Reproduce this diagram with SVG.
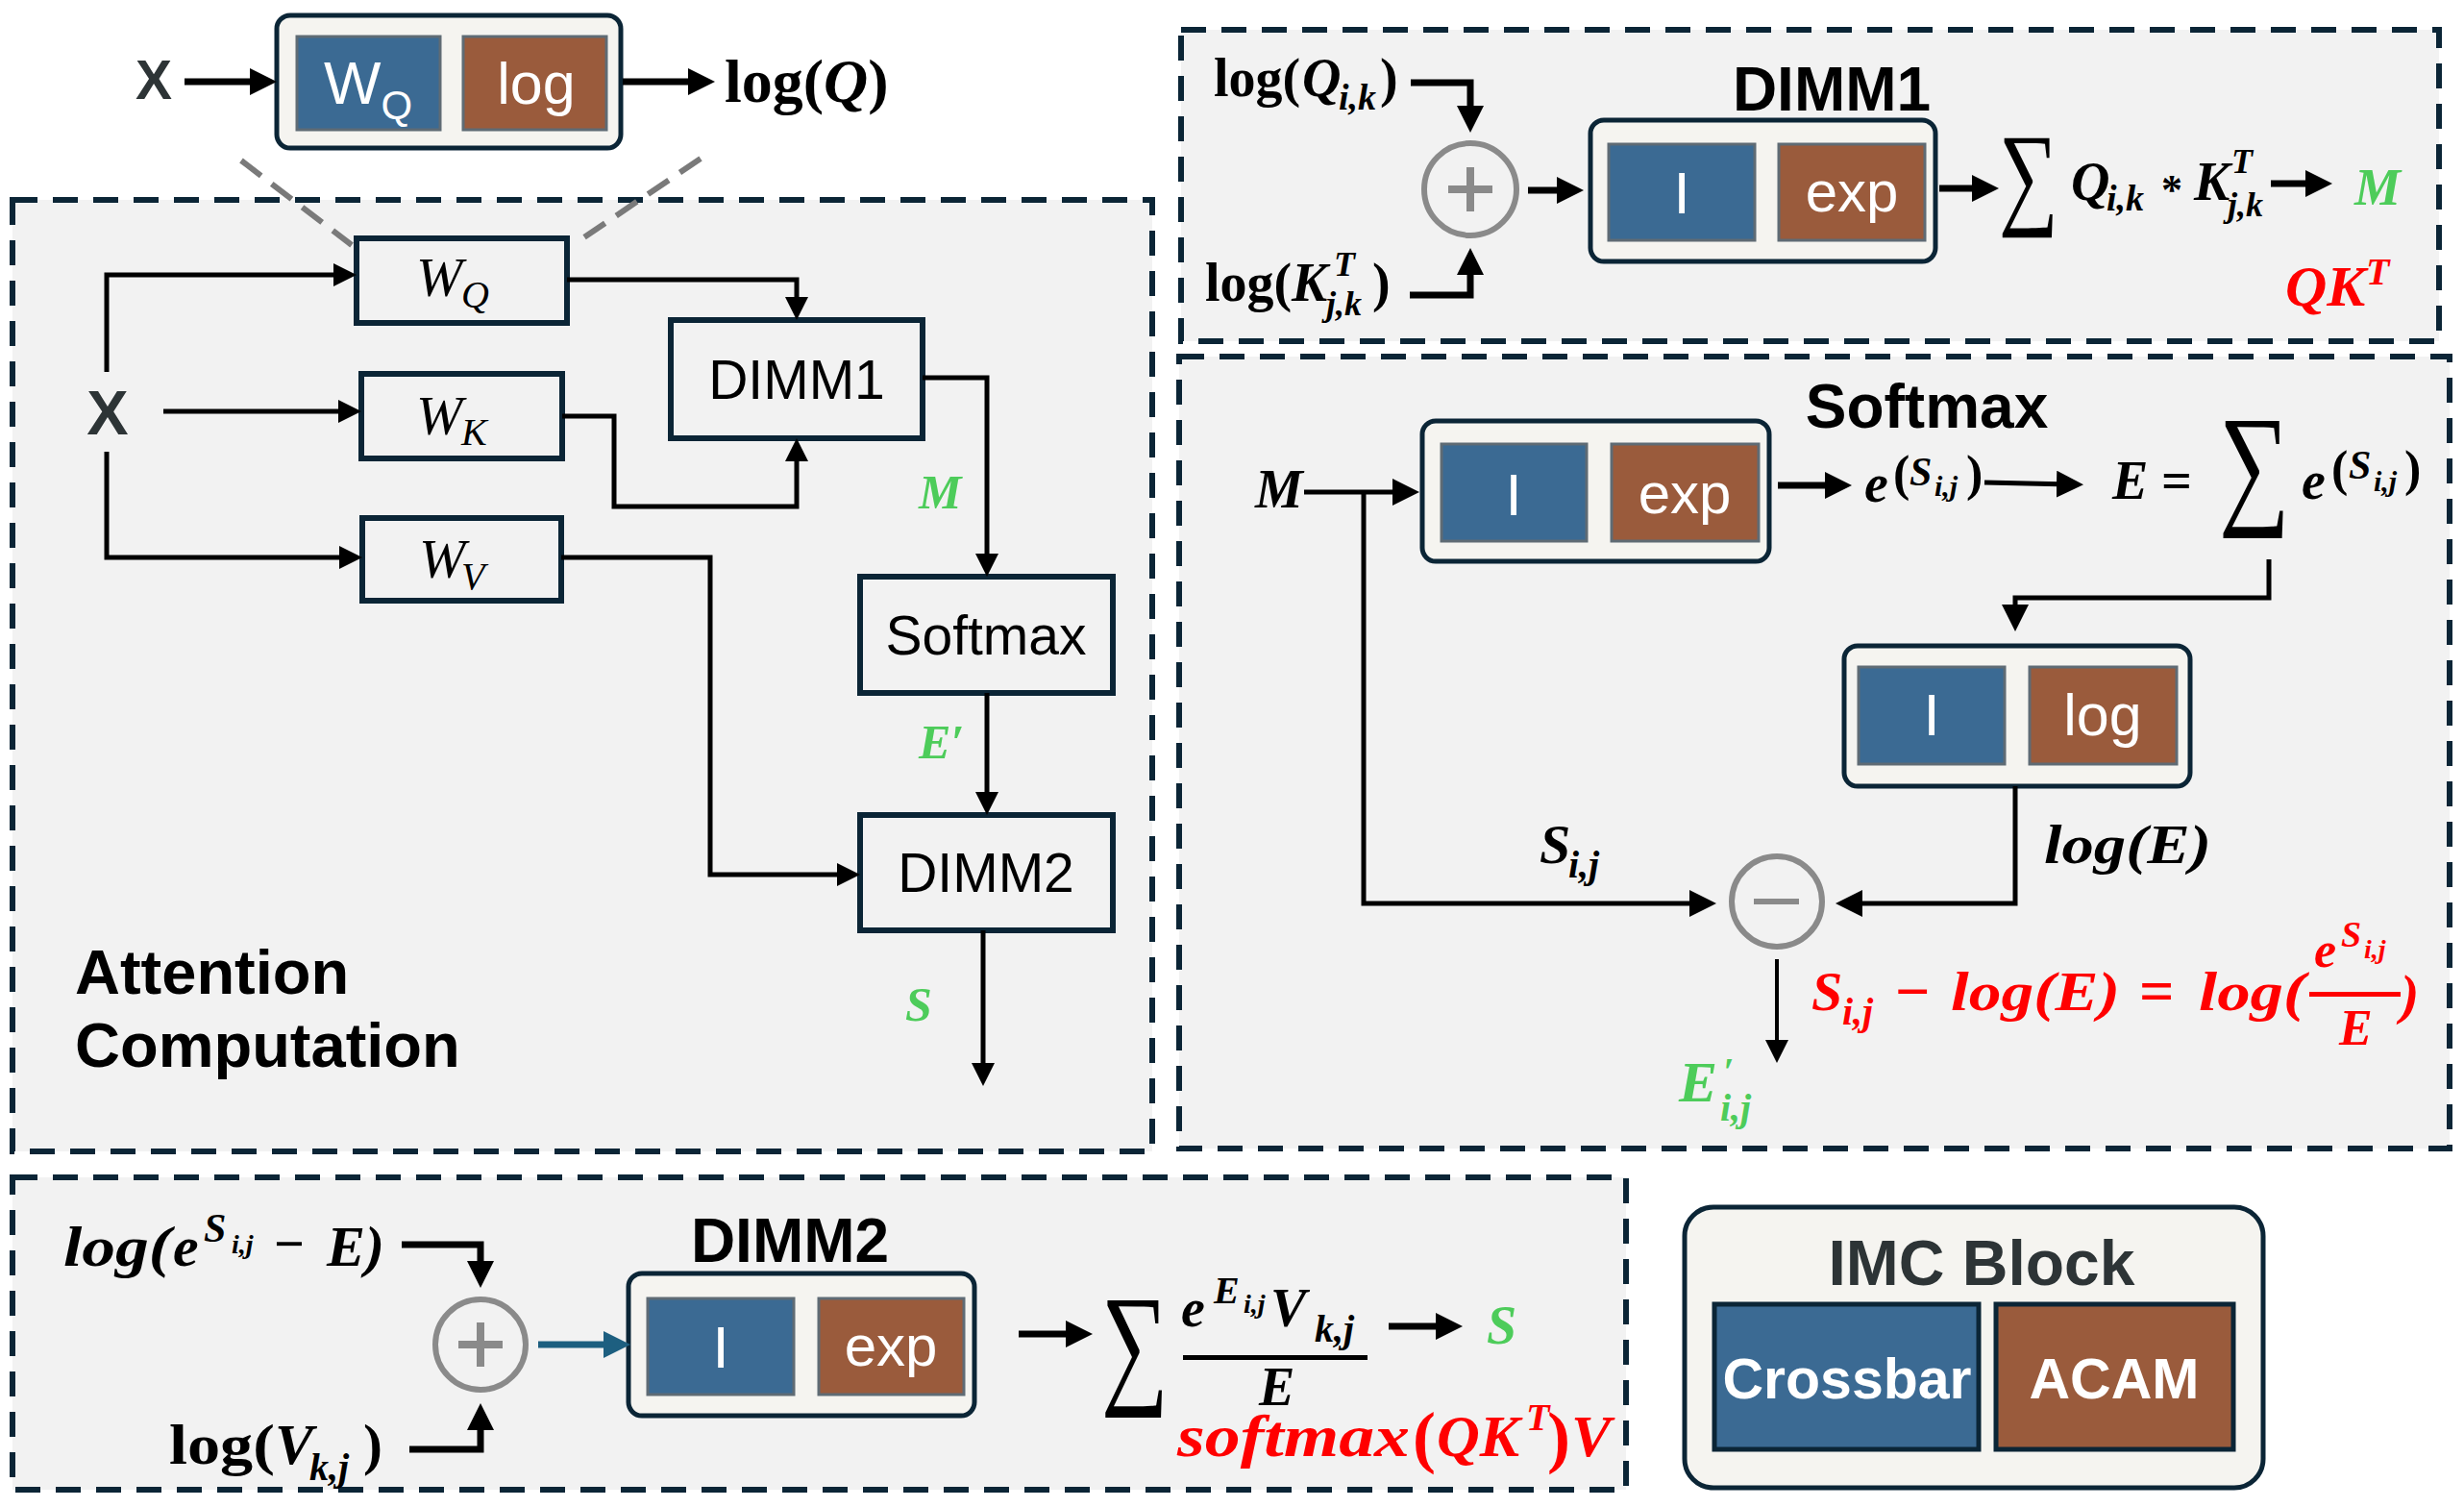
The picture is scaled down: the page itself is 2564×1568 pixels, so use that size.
<svg xmlns="http://www.w3.org/2000/svg" width="2564" height="1568" viewBox="0 0 2564 1568">
<style>
.pnl{fill:#f2f2f2;stroke:#0b2536;stroke-width:6;stroke-dasharray:26 16}
.bx{fill:#f2f2f2;stroke:#0b2536;stroke-width:6}
.imc{fill:#f5f4f0;stroke:#0b2536;stroke-width:5}
.cb{fill:#3b6a93;stroke:#5f6b74;stroke-width:3}
.ac{fill:#9a5b3c;stroke:#5f6b74;stroke-width:3}
.w{fill:none;stroke:#000;stroke-width:5}
.wt{fill:none;stroke:#000;stroke-width:7}
.op{fill:none;stroke:#8a8a8a;stroke-width:6}
.opl{stroke:#8a8a8a;stroke-width:8}
.dl{stroke:#7a7a7a;stroke-width:6;stroke-dasharray:26 14}
.sans{font-family:"Liberation Sans",Arial,sans-serif}
.b{font-weight:bold}
.m{font-family:"Liberation Serif","Times New Roman",serif;font-weight:bold}
.sig{font-family:"Liberation Serif","Times New Roman",serif;font-weight:normal}
.it{font-style:italic}
.up{font-style:normal}
.wh{fill:#fff}
.dk{fill:#2d3436}
.g{fill:#4dcc5a}
.r{fill:#ff0000}
.mid{text-anchor:middle}
</style>
<defs>
<marker id="ah" markerUnits="userSpaceOnUse" markerWidth="26" markerHeight="26" refX="12" refY="12" orient="auto"><path d="M0,0 L24,12 L0,24 z" fill="#000"/></marker>
<marker id="ah2" markerUnits="userSpaceOnUse" markerWidth="30" markerHeight="30" refX="14" refY="14" orient="auto"><path d="M0,0 L28,14 L0,28 z" fill="#000"/></marker>
<marker id="aht" markerUnits="userSpaceOnUse" markerWidth="30" markerHeight="30" refX="14" refY="14" orient="auto"><path d="M0,0 L28,14 L0,28 z" fill="#1d5f80"/></marker>
</defs>
<rect width="2564" height="1568" fill="#fff"/>

<!-- panels -->
<g id="panels">
<rect class="pnl" x="13" y="208" width="1186" height="990"/>
<rect class="pnl" x="1229" y="31" width="1309" height="324"/>
<rect class="pnl" x="1227" y="371" width="1322" height="824"/>
<rect class="pnl" x="13" y="1225" width="1679" height="325"/>
</g>

<!-- top mini W_Q/log block -->
<g id="zoom-lines">
<line class="dl" x1="251" y1="167" x2="366" y2="255"/>
<line class="dl" x1="729" y1="165" x2="599" y2="253"/>
</g>
<g id="topWQ">
<rect class="imc" x="288" y="16" width="358" height="138" rx="14"/>
<rect class="cb" x="309" y="38" width="149" height="97"/>
<rect class="ac" x="482" y="38" width="149" height="97"/>
<text class="sans wh" x="337" y="108" font-size="63">W<tspan font-size="42" y="124">Q</tspan></text>
<text class="sans wh mid" x="558" y="108" font-size="61">log</text>
</g>
<g id="topX"><text class="sans b dk mid" x="160" y="103" font-size="57">X</text></g>
<g id="topLogQ"><text class="m" x="754" y="106" font-size="64">log(<tspan class="it">Q</tspan>)</text></g>

<!-- attention computation nodes -->
<g id="attX"><text class="sans b dk mid" x="112" y="452" font-size="65">X</text></g>
<g id="WQ"><rect class="bx" x="371" y="248" width="219" height="88"/>
<text class="m it" style="font-weight:normal" x="433" y="308" font-size="58">W<tspan font-size="40" x="480" y="320">Q</tspan></text></g>
<g id="WK"><rect class="bx" x="376" y="389" width="209" height="88"/>
<text class="m it" style="font-weight:normal" x="433" y="452" font-size="58">W<tspan font-size="40" x="480" y="463">K</tspan></text></g>
<g id="WV"><rect class="bx" x="377" y="539" width="207" height="86"/>
<text class="m it" style="font-weight:normal" x="436" y="601" font-size="58">W<tspan font-size="40" x="480" y="613">V</tspan></text></g>
<g id="DIMM1"><rect class="bx" x="698" y="333" width="262" height="123"/>
<text class="sans mid" x="829" y="415" font-size="57">DIMM1</text></g>
<g id="Softmax"><rect class="bx" x="895" y="600" width="263" height="121"/>
<text class="sans mid" x="1026" y="681" font-size="57">Softmax</text></g>
<g id="DIMM2"><rect class="bx" x="895" y="848" width="263" height="120"/>
<text class="sans mid" x="1026" y="928" font-size="57">DIMM2</text></g>
<g id="attTitle"><text class="sans b" x="78" y="1034" font-size="65">Attention</text>
<text class="sans b" x="78" y="1110" font-size="65">Computation</text></g>
<g id="attLabels">
<text class="m it g" x="956" y="529" font-size="50">M</text>
<text class="m it g" x="956" y="789" font-size="50">E′</text>
<text class="m it g" x="942" y="1062" font-size="50">S</text>
</g>

<!-- DIMM1 detail -->
<g id="d1LogQ"><text class="m" font-size="56"><tspan x="1263" y="100">log(</tspan><tspan class="it" x="1355" y="100">Q</tspan><tspan class="it" font-size="38" x="1393" y="114">i,k</tspan><tspan x="1436" y="100">)</tspan></text></g>
<g id="d1LogK"><text class="m" font-size="56"><tspan x="1254" y="313">log(</tspan><tspan class="it" x="1344" y="313">K</tspan><tspan class="it" font-size="36" x="1388" y="287">T</tspan><tspan class="it" font-size="36" x="1380" y="328">j,k</tspan><tspan x="1428" y="313">)</tspan></text></g>
<g id="d1Plus"><circle class="op" cx="1530" cy="197" r="48"/><line class="opl" x1="1507" y1="197" x2="1553" y2="197"/><line class="opl" x1="1530" y1="174" x2="1530" y2="220"/></g>
<g id="d1Block"><rect class="imc" x="1655" y="125" width="359" height="147" rx="14"/>
<rect class="cb" x="1674" y="150" width="152" height="100"/>
<rect class="ac" x="1851" y="150" width="152" height="100"/>
<text class="sans wh mid" x="1750" y="222" font-size="62">I</text>
<text class="sans wh mid" x="1927" y="220" font-size="60">exp</text>
<text class="sans b mid" x="1906" y="115" font-size="64">DIMM1</text></g>
<g id="d1Sum"><text class="sig" font-size="120" x="2080" y="222" textLength="62" lengthAdjust="spacingAndGlyphs">∑</text>
<text class="m it" font-size="56"><tspan x="2155" y="208">Q</tspan><tspan font-size="38" x="2192" y="219">i,k</tspan><tspan class="up" font-size="44" x="2249" y="212">*</tspan><tspan x="2283" y="208">K</tspan><tspan font-size="36" x="2322" y="180">T</tspan><tspan font-size="36" x="2318" y="225">j,k</tspan></text></g>
<g id="d1M"><text class="m it g" x="2450" y="213" font-size="54">M</text></g>
<g id="d1QKT"><text class="m it r" font-size="60"><tspan x="2378" y="318">QK</tspan><tspan font-size="40" x="2462" y="296">T</tspan></text></g>

<!-- Softmax detail -->
<g id="smM"><text class="m it" x="1306" y="528" font-size="56">M</text></g>
<g id="smBlock"><rect class="imc" x="1480" y="438" width="361" height="146" rx="14"/>
<rect class="cb" x="1500" y="462" width="151" height="101"/>
<rect class="ac" x="1677" y="462" width="153" height="101"/>
<text class="sans wh mid" x="1575" y="536" font-size="62">I</text>
<text class="sans wh mid" x="1753" y="534" font-size="60">exp</text>
<text class="sans b mid" x="2005" y="445" font-size="64">Softmax</text></g>
<g id="smExp"><text class="m it" font-size="56"><tspan x="1940" y="522">e</tspan><tspan class="up" font-size="52" x="1970" y="510">(</tspan><tspan font-size="42" x="1987" y="505">S</tspan><tspan font-size="30" x="2013" y="516">i,j</tspan><tspan class="up" font-size="52" x="2046" y="510">)</tspan></text></g>
<g id="smSumE"><text class="m it" font-size="56"><tspan x="2198" y="519">E</tspan><tspan class="up" x="2249" y="519">=</tspan></text>
<text class="sig" font-size="140" x="2309" y="530" textLength="74" lengthAdjust="spacingAndGlyphs">∑</text>
<text class="m it" font-size="56"><tspan x="2395" y="519">e</tspan><tspan class="up" font-size="52" x="2426" y="505">(</tspan><tspan font-size="42" x="2444" y="498">S</tspan><tspan font-size="30" x="2470" y="511">i,j</tspan><tspan class="up" font-size="52" x="2502" y="505">)</tspan></text></g>
<g id="smLogBlock"><rect class="imc" x="1919" y="672" width="360" height="146" rx="14"/>
<rect class="cb" x="1934" y="694" width="152" height="101"/>
<rect class="ac" x="2112" y="694" width="153" height="101"/>
<text class="sans wh mid" x="2010" y="765" font-size="62">I</text>
<text class="sans wh mid" x="2188" y="765" font-size="61">log</text></g>
<g id="smLogE"><text class="m it" x="2127" y="898" font-size="58" textLength="174" lengthAdjust="spacingAndGlyphs">log(E)</text></g>
<g id="smS"><text class="m it" font-size="58"><tspan x="1602" y="898">S</tspan><tspan font-size="40" x="1632" y="913">i,j</tspan></text></g>
<g id="smMinus"><circle class="op" cx="1849" cy="938" r="47"/><line class="op" x1="1825" y1="938" x2="1872" y2="938"/></g>
<g id="smEp"><text class="m it g" font-size="60"><tspan x="1747" y="1146">E</tspan><tspan font-size="40" x="1793" y="1128">′</tspan><tspan font-size="40" x="1790" y="1166">i,j</tspan></text></g>
<g id="smRed"><text class="m it r" font-size="58">
<tspan x="1885" y="1051">S</tspan><tspan font-size="40" x="1917" y="1066">i,j</tspan><tspan class="up" font-size="64" x="1972" y="1053">−</tspan>
</text>
<text class="m it r" x="2030" y="1051" font-size="58" textLength="176" lengthAdjust="spacingAndGlyphs">log(E)</text>
<text class="m r" x="2226" y="1053" font-size="64">=</text>
<text class="m it r" x="2288" y="1051" font-size="58" textLength="111" lengthAdjust="spacingAndGlyphs">log(</text>
<text class="m it r" font-size="52"><tspan x="2408" y="1006">e</tspan><tspan font-size="38" x="2436" y="985">S</tspan><tspan font-size="28" x="2460" y="997">i,j</tspan><tspan x="2434" y="1087">E</tspan></text>
<rect x="2403" y="1032" width="95" height="5" fill="#ff0000"/>
<text class="m it r" x="2498" y="1054" font-size="58">)</text></g>

<!-- DIMM2 detail -->
<g id="d2LogE"><text class="m it" font-size="60"><tspan x="66" y="1317" textLength="112" lengthAdjust="spacingAndGlyphs">log(</tspan><tspan x="180" y="1317">e</tspan><tspan font-size="42" x="212" y="1292">S</tspan><tspan font-size="28" x="241" y="1304">i,j</tspan><tspan class="up" font-size="56" x="285" y="1313">−</tspan><tspan x="340" y="1317">E</tspan><tspan x="380" y="1317">)</tspan></text></g>
<g id="d2LogV"><text class="m" font-size="60"><tspan x="176" y="1523" textLength="110" lengthAdjust="spacingAndGlyphs">log(</tspan><tspan class="it" x="286" y="1523">V</tspan><tspan class="it" font-size="40" x="322" y="1540">k,j</tspan><tspan x="378" y="1523">)</tspan></text></g>
<g id="d2Plus"><circle class="op" cx="500" cy="1399" r="47"/><line class="opl" x1="477" y1="1399" x2="523" y2="1399"/><line class="opl" x1="500" y1="1376" x2="500" y2="1422"/></g>
<g id="d2Block"><rect class="imc" x="654" y="1325" width="360" height="148" rx="14"/>
<rect class="cb" x="674" y="1351" width="152" height="100"/>
<rect class="ac" x="852" y="1351" width="151" height="100"/>
<text class="sans wh mid" x="750" y="1423" font-size="62">I</text>
<text class="sans wh mid" x="927" y="1421" font-size="60">exp</text>
<text class="sans b mid" x="822" y="1313" font-size="64">DIMM2</text></g>
<g id="d2Sum"><text class="sig" font-size="140" x="1146" y="1445" textLength="70" lengthAdjust="spacingAndGlyphs">∑</text>
<text class="m it" font-size="56"><tspan x="1229" y="1380">e</tspan><tspan font-size="40" x="1263" y="1356">E</tspan><tspan font-size="28" x="1294" y="1366">i,j</tspan><tspan x="1322" y="1380">V</tspan><tspan font-size="40" x="1368" y="1396">k,j</tspan><tspan x="1310" y="1462">E</tspan></text>
<rect x="1231" y="1410" width="192" height="5" fill="#000"/></g>
<g id="d2S"><text class="m it g" x="1547" y="1398" font-size="56">S</text></g>
<g id="d2Red"><text class="m it r" x="1225" y="1515" font-size="62" textLength="242" lengthAdjust="spacingAndGlyphs">softmax</text>
<text class="m it r" font-size="62"><tspan class="up" font-size="72" x="1470" y="1519">(</tspan><tspan x="1495" y="1515">QK</tspan><tspan font-size="40" x="1588" y="1488">T</tspan><tspan class="up" font-size="72" x="1610" y="1519">)</tspan><tspan x="1635" y="1515">V</tspan></text></g>

<!-- IMC legend -->
<g id="IMCBlock"><rect class="imc" x="1753" y="1256" width="602" height="292" rx="30"/>
<text class="sans b dk mid" x="2062" y="1337" font-size="66">IMC Block</text>
<rect x="1784" y="1357" width="275" height="151" fill="#3b6a93" stroke="#0b2536" stroke-width="5"/>
<rect x="2077" y="1357" width="247" height="151" fill="#9a5b3c" stroke="#0b2536" stroke-width="5"/>
<text class="sans b wh mid" x="1922" y="1455" font-size="59">Crossbar</text>
<text class="sans b wh mid" x="2200" y="1455" font-size="59">ACAM</text></g>

<!-- connectors -->
<g id="connectors">
<path class="wt" d="M192,85 H274" marker-end="url(#ah2)"/>
<path class="wt" d="M648,85 H730" marker-end="url(#ah2)"/>
<path class="w" d="M111,387 V286 H359" marker-end="url(#ah)"/>
<path class="w" d="M170,428 H364" marker-end="url(#ah)"/>
<path class="w" d="M111,470 V580 H365" marker-end="url(#ah)"/>
<path class="w" d="M590,291 H829 V321" marker-end="url(#ah)"/>
<path class="w" d="M585,433 H639 V527 H829 V468" marker-end="url(#ah)"/>
<path class="w" d="M960,393 H1027 V588" marker-end="url(#ah)"/>
<path class="w" d="M1027,721 V836" marker-end="url(#ah)"/>
<path class="w" d="M584,580 H739 V910 H883" marker-end="url(#ah)"/>
<path class="w" d="M1023,968 V1118" marker-end="url(#ah)"/>
<path class="wt" d="M1468,86 H1530 V124" marker-end="url(#ah2)"/>
<path class="wt" d="M1467,307 H1530 V272" marker-end="url(#ah2)"/>
<path class="wt" d="M1590,198 H1634" marker-end="url(#ah2)"/>
<path class="wt" d="M2018,196 H2066" marker-end="url(#ah2)"/>
<path class="wt" d="M2363,191 H2413" marker-end="url(#ah2)"/>
<path class="w" d="M1357,512 H1463" marker-end="url(#ah2)"/>
<path class="w" d="M1419,512 V940 H1772" marker-end="url(#ah2)"/>
<path class="wt" d="M1850,505 H1913" marker-end="url(#ah2)"/>
<path class="w" d="M2065,502 L2154,504" marker-end="url(#ah2)"/>
<path class="w" d="M2361,582 V622 H2097 V643" marker-end="url(#ah2)"/>
<path class="w" d="M2097,818 V940 H1924" marker-end="url(#ah2)"/>
<path fill="none" stroke="#000" stroke-width="4" d="M1849,998 V1094" marker-end="url(#ah)"/>
<path class="wt" d="M418,1295 H500 V1326" marker-end="url(#ah2)"/>
<path class="wt" d="M426,1508 H500 V1474" marker-end="url(#ah2)"/>
<path fill="none" stroke="#1d5f80" stroke-width="7" d="M560,1399 H642" marker-end="url(#aht)"/>
<path class="wt" d="M1060,1388 H1123" marker-end="url(#ah2)"/>
<path class="wt" d="M1445,1380 H1508" marker-end="url(#ah2)"/>
</g>
</svg>
